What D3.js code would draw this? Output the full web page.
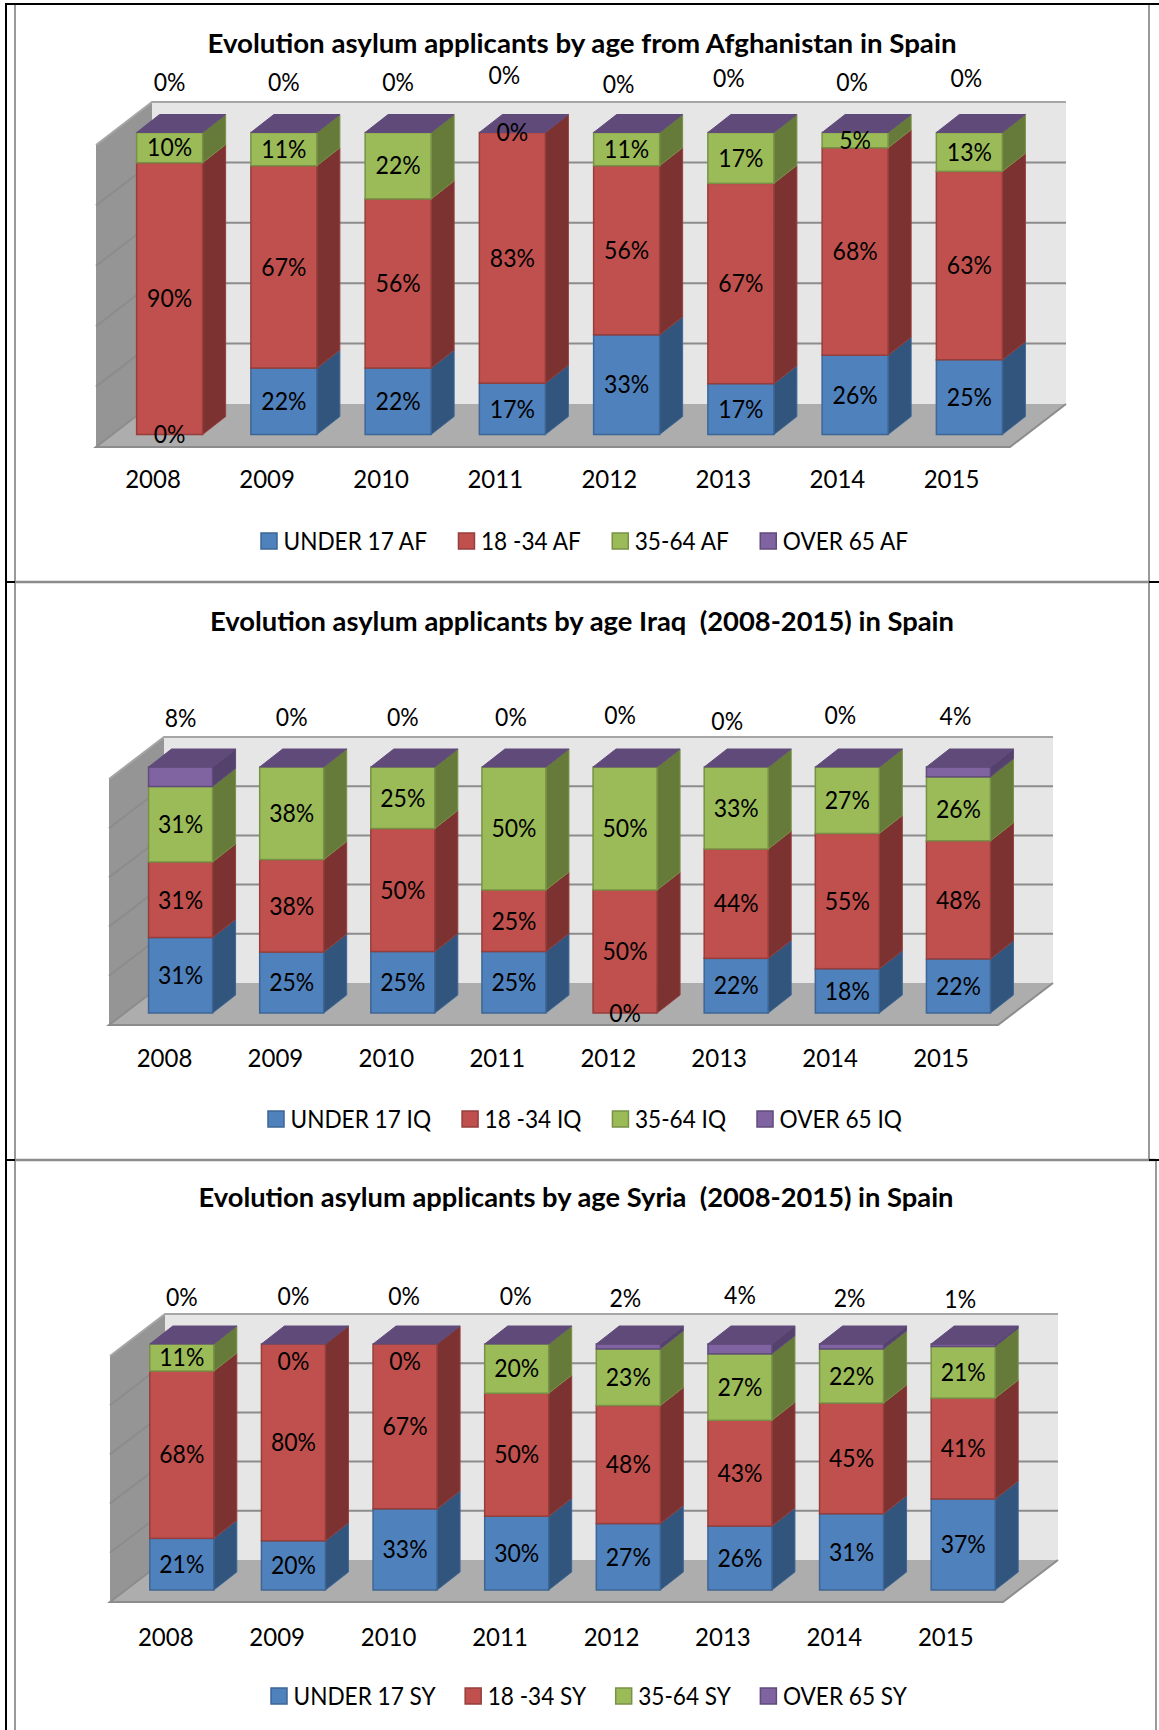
<!DOCTYPE html>
<html>
<head>
<meta charset="utf-8">
<title>Evolution asylum applicants by age in Spain</title>
<script src="https://cdn.jsdelivr.net/npm/d3@7"></script>
<style>
  body { margin: 0; background: #fff; }
  svg { display: block; }
  text { font-family: Lato, "Open Sans", sans-serif; fill: #000; }
</style>
</head>
<body>
<div id="target_div"></div>
<script>
var years = ['2008', '2009', '2010', '2011', '2012', '2013', '2014', '2015'];
var seriesKeys = ['under17', 'age18to34', 'age35to64', 'over65'];

// share of applicants in percent, one array per age group
var afUnder17 = [0, 22, 22, 17, 33, 17, 26, 25];
var af18to34 = [90, 67, 56, 83, 56, 67, 68, 63];
var af35to64 = [10, 11, 22, 0, 11, 17, 5, 13];
var afOver65 = [0, 0, 0, 0, 0, 0, 0, 0];

var iqUnder17 = [31, 25, 25, 25, 0, 22, 18, 22];
var iq18to34 = [31, 38, 50, 25, 50, 44, 55, 48];
var iq35to64 = [31, 38, 25, 50, 50, 33, 27, 26];
var iqOver65 = [8, 0, 0, 0, 0, 0, 0, 4];

var syUnder17 = [21, 20, 33, 30, 27, 26, 31, 37];
var sy18to34 = [68, 80, 67, 50, 48, 43, 45, 41];
var sy35to64 = [11, 0, 0, 20, 23, 27, 22, 21];
var syOver65 = [0, 0, 0, 0, 2, 4, 2, 1];

var legendAF = ['UNDER 17 AF', '18 -34 AF', '35-64 AF', 'OVER 65 AF'];
var legendIQ = ['UNDER 17 IQ', '18 -34 IQ', '35-64 IQ', 'OVER 65 IQ'];
var legendSY = ['UNDER 17 SY', '18 -34 SY', '35-64 SY', 'OVER 65 SY'];

var colors = {
  under17: {front: '#4f81bd', side: '#32557d', edge: '#3d6695'},
  age18to34: {front: '#c0504d', side: '#7c3230', edge: '#953e3b'},
  age35to64: {front: '#9bbb59', side: '#667a3a', edge: '#789146'},
  over65: {front: '#8064a2', side: '#54416c', edge: '#604b7b', top: '#604a7a'}
};

var charts = [
  {
    title: 'Evolution asylum applicants by age from Afghanistan in Spain',
    titleX: 582, titleY: 44, titleW: 749,
    values: [afUnder17, af18to34, af35to64, afOver65], legend: legendAF,
    x0: 96, floorY: 447, width: 914, height: 302, depthX: 56, depthY: 43,
    barWidth: 66, yearY: 479, legendX: 261, legendY: 541, legendGap: 31.5, zeroLabelDy: 0,
    topLabelY: [82, 82, 82, 75, 84, 78, 82, 78],
    topLabelDx: [0, 0, 0, -8, -8, -12, -3, -3]
  },
  {
    title: 'Evolution asylum applicants by age Iraq  (2008-2015) in Spain',
    titleX: 582, titleY: 622, titleW: 744,
    values: [iqUnder17, iq18to34, iq35to64, iqOver65], legend: legendIQ,
    x0: 109, floorY: 1025, width: 889, height: 246, depthX: 55, depthY: 42,
    barWidth: 64, yearY: 1058, legendX: 268, legendY: 1119, legendGap: 31, zeroLabelDy: 0,
    topLabelY: [718, 717, 717, 717, 715, 721, 715, 716],
    topLabelDx: [0, 0, 0, -3, -5, -9, -7, -3]
  },
  {
    title: 'Evolution asylum applicants by age Syria  (2008-2015) in Spain',
    titleX: 576, titleY: 1198, titleW: 755,
    values: [syUnder17, sy18to34, sy35to64, syOver65], legend: legendSY,
    x0: 110, floorY: 1602, width: 893, height: 246, depthX: 55, depthY: 42,
    barWidth: 64, yearY: 1637, legendX: 271, legendY: 1696, legendGap: 29.5, zeroLabelDy: 17,
    topLabelY: [1297, 1296, 1296, 1296, 1298, 1295, 1298, 1299],
    topLabelDx: [0, 0, -1, -1, -3, 0, -2, -3]
  }
];

var bar_depth = {x: 23, y: 18};
var label_size = 25;
var value_squeeze = 0.92; // labels are tall and narrow
var year_squeeze = 0.96;
var legend_squeeze = 0.905;

var svg = d3.select('#target_div')
  .append('svg')
  .attr('width', 1159)
  .attr('height', 1730);

svg.append('rect').attr('width', 1159).attr('height', 1730).attr('fill', '#fff');

charts.forEach(draw_chart);
draw_frame();

function points(list) {
  return list.map(p => p.join(',')).join(' ');
}

function draw_chart(c) {
  var g = svg.append('g');

  var rows = years.map((year, i) => {
    var row = {year: year};
    seriesKeys.forEach((key, s) => { row[key] = c.values[s][i]; });
    return row;
  });

  // rounded percentages may not add up to 100, the columns still fill the full height
  var stacked = d3.stack().keys(seriesKeys).offset(d3.stackOffsetExpand)(rows);

  var mapX = d3.scaleBand().domain(years).range([c.x0, c.x0 + c.width]);
  var wallY = d3.scaleLinear().domain([0, 1]).range([c.floorY, c.floorY - c.height]);

  // columns stand halfway into the floor depth
  var barShiftX = (c.depthX - bar_depth.x) / 2;
  var barShiftY = (c.depthY - bar_depth.y) / 2;
  var mapY = d3.scaleLinear().domain([0, 1]).range([c.floorY - barShiftY, c.floorY - barShiftY - c.height]);
  var barX = year => mapX(year) + mapX.bandwidth() / 2 + barShiftX - c.barWidth / 2;

  var right = c.x0 + c.width;
  var top = wallY(1);

  // walls and floor
  g.append('polygon')
    .attr('points', points([[c.x0 + c.depthX, top - c.depthY], [right + c.depthX, top - c.depthY],
      [right + c.depthX, c.floorY - c.depthY], [c.x0 + c.depthX, c.floorY - c.depthY]]))
    .attr('fill', '#e6e6e6');
  g.append('polygon')
    .attr('points', points([[c.x0, top], [c.x0 + c.depthX, top - c.depthY],
      [c.x0 + c.depthX, c.floorY - c.depthY], [c.x0, c.floorY]]))
    .attr('fill', '#959595');
  g.append('polygon')
    .attr('points', points([[c.x0, c.floorY], [right, c.floorY],
      [right + c.depthX, c.floorY - c.depthY], [c.x0 + c.depthX, c.floorY - c.depthY]]))
    .attr('fill', '#adadad');

  // gridlines run along the side wall, then across the back wall
  g.selectAll('.grid')
    .data(wallY.ticks(5).filter(t => t > 0))
    .enter()
    .append('polyline')
    .attr('points', t => points([[c.x0, wallY(t)], [c.x0 + c.depthX, wallY(t) - c.depthY], [right + c.depthX, wallY(t) - c.depthY]]))
    .attr('fill', 'none')
    .attr('stroke', t => t === 1 ? '#a6a6a6' : '#8c8c8c')
    .attr('stroke-width', 2);

  g.append('polyline')
    .attr('points', points([[c.x0 + c.depthX, c.floorY - c.depthY], [c.x0, c.floorY], [right, c.floorY], [right + c.depthX, c.floorY - c.depthY]]))
    .attr('fill', 'none')
    .attr('stroke', '#8c8c8c')
    .attr('stroke-width', 2);

  // columns
  years.forEach((year, i) => {
    var bar = g.append('g');
    var x = barX(year);
    var xr = x + c.barWidth;

    stacked.forEach(layer => {
      var d = layer[i];
      var col = colors[layer.key];
      var y0 = mapY(d[0]);
      var y1 = mapY(d[1]);
      if (d[1] - d[0] <= 0) {
        return;
      }
      bar.append('polygon')
        .attr('points', points([[xr, y0], [xr, y1], [xr + bar_depth.x, y1 - bar_depth.y], [xr + bar_depth.x, y0 - bar_depth.y]]))
        .attr('fill', col.side)
        .attr('stroke', col.edge)
        .attr('stroke-width', 1);
      bar.append('rect')
        .attr('x', x)
        .attr('y', y1)
        .attr('width', c.barWidth)
        .attr('height', y0 - y1)
        .attr('fill', col.front)
        .attr('stroke', col.edge)
        .attr('stroke-width', 1.5);
    });

    var yTop = mapY(1);
    bar.append('polygon')
      .attr('points', points([[x, yTop], [xr, yTop], [xr + bar_depth.x, yTop - bar_depth.y], [x + bar_depth.x, yTop - bar_depth.y]]))
      .attr('fill', colors.over65.top)
      .attr('stroke', colors.over65.edge)
      .attr('stroke-width', 1);
  });

  // value labels
  stacked.forEach((layer, s) => {
    g.selectAll(`.label-${layer.key}`)
      .data(layer)
      .enter()
      .append('text')
      .attr('text-anchor', 'middle')
      .attr('dy', '0.35em')
      .attr('font-size', label_size)
      .attr('transform', (d, i) => {
        var cx = barX(years[i]) + c.barWidth / 2;
        if (s === 3) {
          return `translate(${cx + c.topLabelDx[i]}, ${c.topLabelY[i]}) scale(${value_squeeze}, 1)`;
        }
        var nudge = (s === 2 && c.values[s][i] === 0) ? c.zeroLabelDy : 0;
        return `translate(${cx}, ${mapY((d[0] + d[1]) / 2) + nudge}) scale(${value_squeeze}, 1)`;
      })
      .text((d, i) => c.values[s][i] + '%');
  });

  // year labels
  var yearX = mapX.copy().range([c.x0, c.x0 + c.width - 1.5]);
  var xAxis = d3.axisBottom().scale(yearX).tickSize(0).tickPadding(c.yearY - c.floorY - 9);
  var axis = g.append('g')
    .attr('transform', `translate(0, ${c.floorY})`)
    .call(xAxis);
  axis.select('.domain').remove();
  axis.attr('font-size', label_size).attr('font-family', null);
  axis.selectAll('text').attr('transform', `scale(${year_squeeze}, 1)`);

  // title
  g.append('text')
    .attr('x', c.titleX)
    .attr('y', c.titleY)
    .attr('dy', '0.35em')
    .attr('text-anchor', 'middle')
    .attr('font-size', 27)
    .attr('font-weight', 'bold')
    .attr('textLength', c.titleW)
    .attr('lengthAdjust', 'spacingAndGlyphs')
    .style('white-space', 'pre')
    .text(c.title);

  // legend, one item after the other
  var cursor = c.legendX;
  seriesKeys.forEach((key, s) => {
    g.append('rect')
      .attr('x', cursor)
      .attr('y', c.legendY - 8)
      .attr('width', 16)
      .attr('height', 16)
      .attr('fill', colors[key].front)
      .attr('stroke', colors[key].edge)
      .attr('stroke-width', 1.5);
    var label = g.append('text')
      .attr('transform', `translate(${cursor + 22.5}, ${c.legendY}) scale(${legend_squeeze}, 1)`)
      .attr('dy', '0.35em')
      .attr('font-size', label_size)
      .text(c.legend[s]);
    cursor += 22.5 + label.node().getComputedTextLength() * legend_squeeze + c.legendGap;
  });
}

// table rules around the three charts
function draw_frame() {
  var frame = svg.append('g').attr('fill', 'none');
  var grey = '#9a9a9a';
  frame.append('path').attr('d', 'M15,5V1730M1149,5V1160M1156,1160V1730').attr('stroke', grey).attr('stroke-width', 2);
  frame.append('path').attr('d', 'M15,582H1149M15,1160H1156').attr('stroke', '#8c8c8c').attr('stroke-width', 2.5);
  frame.append('path').attr('d', 'M6,1730V4H1159M6,582H15M1149,582H1159M6,1160H15M1149,1160H1159').attr('stroke', '#000').attr('stroke-width', 2);
}
</script>
</body>
</html>
